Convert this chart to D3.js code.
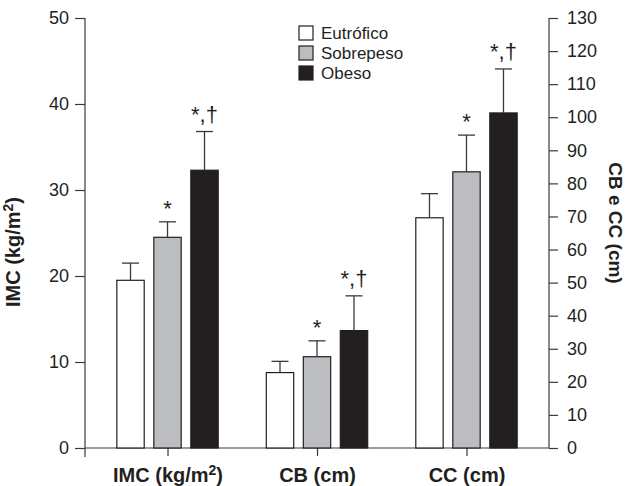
<!DOCTYPE html>
<html>
<head>
<meta charset="utf-8">
<script src="https://cdn.jsdelivr.net/npm/d3@7"></script>
<style>
  body { margin: 0; background: #fff; }
  svg { font-family: "Liberation Sans", Arial, sans-serif; }
</style>
</head>
<body>
<div id="chart"></div>
<script>
// chart data
var categories = ["IMC (kg/m²)", "CB (cm)", "CC (cm)"];
var categoryAxis = ["left", "right", "right"];
var groups = ["Eutrófico", "Sobrepeso", "Obeso"];
var eutrofico = [19.5, 22.8, 69.6];
var eutroficoSd = [2.0, 3.4, 7.3];
var sobrepeso = [24.5, 27.6, 83.5];
var sobrepesoSd = [1.8, 4.8, 11.1];
var obeso = [32.3, 35.5, 101.3];
var obesoSd = [4.5, 10.5, 13.3];
var marks = ["", "*", "*,†"];
var leftTicks = [0, 10, 20, 30, 40, 50];
var rightTicks = [0, 10, 20, 30, 40, 50, 60, 70, 80, 90, 100, 110, 120, 130];

var width = 628, height = 486;
var plotLeft = 85, plotRight = 549, plotTop = 18, plotBase = 448;
var fills = ["#ffffff", "#bcbdc0", "#231f20"];
var ink = "#231f20";

var svg = d3.select("#chart").append("svg")
    .attr("width", width)
    .attr("height", height);

var yLeft = d3.scaleLinear().domain([0, 50]).range([plotBase, plotTop]);
var yRight = d3.scaleLinear().domain([0, 130]).range([plotBase, plotTop]);
var x = d3.scalePoint().domain(categories).range([plotLeft, plotRight]).padding(0.552);
var xs = d3.scaleBand().domain(groups).range([-55.5, 55.5]).paddingInner(0.26).paddingOuter(0.13);

var values = [eutrofico, sobrepeso, obeso];
var sds = [eutroficoSd, sobrepesoSd, obesoSd];

var rows = [];
groups.forEach(function(g, gi) {
    categories.forEach(function(c, ci) {
        rows.push({group: g, gi: gi, cat: c, v: values[gi][ci], sd: sds[gi][ci],
                   y: categoryAxis[ci] === "left" ? yLeft : yRight});
    });
});

// axes
var axL = svg.append("g")
    .attr("transform", "translate(" + plotLeft + ",0)")
    .call(d3.axisLeft(yLeft).tickValues(leftTicks).tickSize(10).tickSizeOuter(0).tickPadding(6));
var axR = svg.append("g")
    .attr("transform", "translate(" + plotRight + ",0)")
    .call(d3.axisRight(yRight).tickValues(rightTicks).tickSize(9).tickSizeOuter(0).tickPadding(9));
var axB = svg.append("g")
    .attr("transform", "translate(0," + plotBase + ")")
    .call(d3.axisBottom(x).tickSize(8).tickSizeOuter(0).tickPadding(12));

[axL, axR, axB].forEach(function(a) {
    a.selectAll(".domain").remove();
    a.selectAll("line").attr("stroke", "#3a3a3a").attr("stroke-width", 1.2);
    a.selectAll("text").attr("fill", ink).attr("font-size", 18).attr("font-family", null);
});

// axis lines
svg.append("line").attr("x1", plotLeft).attr("x2", plotLeft).attr("y1", yLeft(50)).attr("y2", plotBase + 9)
    .attr("stroke", "#3a3a3a").attr("stroke-width", 1.2);
svg.append("line").attr("x1", plotRight).attr("x2", plotRight).attr("y1", yRight(130)).attr("y2", plotBase)
    .attr("stroke", "#3a3a3a").attr("stroke-width", 1.2);
svg.append("line").attr("x1", plotLeft).attr("x2", plotRight).attr("y1", plotBase).attr("y2", plotBase)
    .attr("stroke", "#3a3a3a").attr("stroke-width", 1.2);

// category labels, with a real superscript 2
axB.selectAll("text").each(function(d) {
    var t = d3.select(this).text("").attr("font-size", 20).attr("font-weight", "bold");
    var parts = d.split("²");
    t.append("tspan").text(parts[0]);
    if (parts.length > 1) {
        t.append("tspan").attr("font-size", 14).attr("dy", -7).text("2");
        t.append("tspan").attr("dy", 7).text(parts[1]);
    }
});

// bars
svg.append("g").selectAll("rect")
    .data(rows)
    .join("rect")
    .attr("x", function(d) { return x(d.cat) + xs(d.group); })
    .attr("width", xs.bandwidth())
    .attr("y", function(d) { return d.y(d.v); })
    .attr("height", function(d) { return plotBase - d.y(d.v); })
    .attr("fill", function(d) { return fills[d.gi]; })
    .attr("stroke", ink)
    .attr("stroke-width", 1.2);

// error bars (upper half only)
var err = svg.append("g").attr("stroke", "#3a3a3a").attr("stroke-width", 1.3);
err.selectAll("line.v")
    .data(rows)
    .join("line")
    .attr("class", "v")
    .attr("x1", function(d) { return x(d.cat) + xs(d.group) + xs.bandwidth() / 2; })
    .attr("x2", function(d) { return x(d.cat) + xs(d.group) + xs.bandwidth() / 2; })
    .attr("y1", function(d) { return d.y(d.v); })
    .attr("y2", function(d) { return d.y(d.v + d.sd); });
err.selectAll("line.c")
    .data(rows)
    .join("line")
    .attr("class", "c")
    .attr("x1", function(d) { return x(d.cat) + xs(d.group) + xs.bandwidth() / 2 - 8.5; })
    .attr("x2", function(d) { return x(d.cat) + xs(d.group) + xs.bandwidth() / 2 + 8.5; })
    .attr("y1", function(d) { return d.y(d.v + d.sd); })
    .attr("y2", function(d) { return d.y(d.v + d.sd); });

// significance marks
svg.append("g").selectAll("text")
    .data(rows.filter(function(d) { return marks[d.gi] !== ""; }))
    .join("text")
    .attr("x", function(d) { return x(d.cat) + xs(d.group) + xs.bandwidth() / 2; })
    .attr("y", function(d) { return d.y(d.v + d.sd) - (d.gi === 2 ? 10 : 6); })
    .attr("text-anchor", "middle")
    .attr("font-size", 22)
    .attr("fill", ink)
    .text(function(d) { return marks[d.gi]; });

// legend
var leg = svg.append("g").selectAll("g")
    .data(groups)
    .join("g")
    .attr("transform", function(d, i) { return "translate(299," + (33 + i * 20) + ")"; });
leg.append("rect")
    .attr("y", -7).attr("width", 14).attr("height", 14)
    .attr("fill", function(d, i) { return fills[i]; })
    .attr("stroke", ink).attr("stroke-width", 1.2);
leg.append("text")
    .attr("x", 22).attr("dy", "0.36em")
    .attr("font-size", 17).attr("fill", ink)
    .text(function(d) { return d; });

// axis titles
var tl = svg.append("text")
    .attr("transform", "translate(20,252) rotate(-90)")
    .attr("text-anchor", "middle")
    .attr("font-size", 20).attr("font-weight", "bold").attr("fill", ink);
tl.append("tspan").text("IMC (kg/m");
tl.append("tspan").attr("font-size", 14).attr("dy", -7).text("2");
tl.append("tspan").attr("dy", 7).text(")");

svg.append("text")
    .attr("transform", "translate(609,223) rotate(90)")
    .attr("text-anchor", "middle")
    .attr("font-size", 19).attr("font-weight", "bold").attr("fill", ink)
    .text("CB e CC (cm)");
</script>
</body>
</html>
